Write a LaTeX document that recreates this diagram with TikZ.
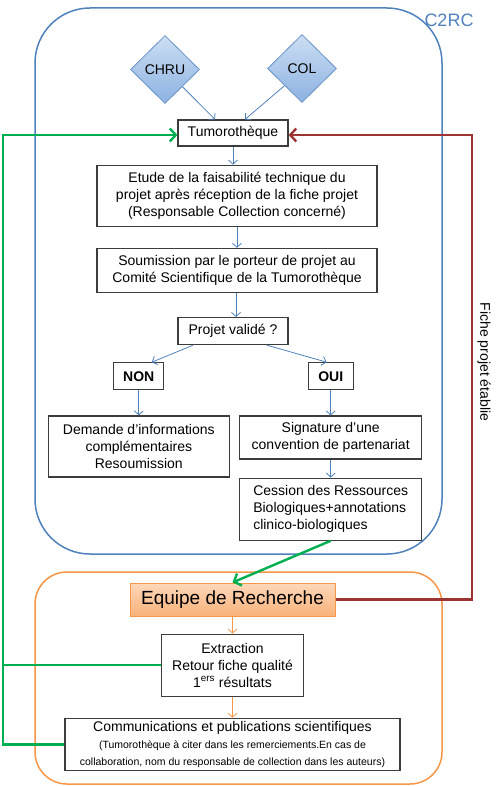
\documentclass[tikz,border=0pt]{standalone}
\usepackage{fontspec}
\setmainfont{Liberation Sans}
\usepackage{xcolor}
\usepackage{tikz}
\usetikzlibrary{positioning,shapes.geometric,arrows.meta}
\definecolor{c2rcblue}{RGB}{79,129,189}
\definecolor{lightblue}{RGB}{205,222,243}
\definecolor{midblue}{RGB}{140,178,225}
\definecolor{teamorange}{RGB}{247,150,70}
\definecolor{peach}{RGB}{253,216,186}
\definecolor{apricot}{RGB}{249,178,122}
\definecolor{loopgreen}{RGB}{0,176,80}
\definecolor{fichered}{RGB}{155,52,50}
\definecolor{boxgray}{RGB}{60,60,60}

\begin{document}
\begin{tikzpicture}[x=1pt, y=-1pt, node distance={18pt}, thick,
    main/.style = {draw=boxgray, line width=1.2pt, fill=white, align=center, inner sep=2pt, font=\fontsize{14}{17}\selectfont},
    site/.style = {diamond, draw=c2rcblue!85, line width=0.8pt, top color=lightblue, bottom color=midblue, minimum width=69, minimum height=68, inner sep=0pt, font=\fontsize{14}{17}\selectfont},
    frame/.style = {rounded corners=#1, line width=1.5pt, minimum width=407},
    link/.style = {draw=c2rcblue, line width=0.8pt, -{Straight Barb[length=4pt,width=9pt]}},
    teamlink/.style = {draw=teamorange, line width=0.8pt, -{Straight Barb[length=4pt,width=9pt]}},
    loop/.style = {draw=loopgreen, line width=2.4pt, -{Straight Barb[length=6pt,width=13pt]}},
    back/.style = {draw=fichered, line width=2.4pt, -{Straight Barb[length=6pt,width=13pt]}}]
    \useasboundingbox (0,0) rectangle (500,786);
    \node[frame=55pt, draw=c2rcblue, minimum height=546] (c2rcframe) at (238.5,281) {};
    \node[frame=32pt, draw=teamorange, minimum height=212] (teamframe) at (238.5,678) {};
    \node[text=c2rcblue, font=\fontsize{18}{20}\selectfont] (c2rc) at (449,20) {C2RC};
    \node[site] (chru) at (165,69.5) {CHRU};
    \node[site] (col) at (302,68.5) {COL};
    \node[main, minimum width=110, minimum height=26] (tumo) at (233,133) {Tumorothèque};
    \node[main, minimum width=280, minimum height=61] (etude) [below=18pt of tumo, xshift=4pt] {Etude de la faisabilité technique du\\projet après réception de la fiche projet\\(Responsable Collection concerné)};
    \node[main, minimum width=280, minimum height=44] (soum) [below=21pt of etude] {Soumission par le porteur de projet au\\Comité Scientifique de la Tumorothèque};
    \node[main, minimum width=110, minimum height=27] (valide) [below=24pt of soum, xshift=-4pt] {Projet validé ?};
    \node[main, minimum width=50, minimum height=27, font=\fontsize{14}{17}\selectfont\bfseries] (non) [below left=17pt and 13pt of valide] {NON};
    \node[main, minimum width=45, minimum height=27, font=\fontsize{14}{17}\selectfont\bfseries] (oui) [below right=17pt and 19pt of valide] {OUI};
    \node[main, minimum width=181, minimum height=61] (demande) [below=25pt of non] {Demande d’informations\\complémentaires\\Resoumission};
    \node[main, minimum width=182, minimum height=43] (signature) [below=25pt of oui] {Signature d’une\\convention de partenariat};
    \node[main, minimum width=182, minimum height=62, align=left] (cession) [below=18pt of signature] {Cession des Ressources\\Biologiques+annotations\\clinico-biologiques};
    \node[main, draw=teamorange, line width=1pt, top color=peach, bottom color=apricot, minimum width=205, minimum height=33, font=\fontsize{19}{22}\selectfont] (equipe) at (232.5,599.5) {Equipe de Recherche};
    \node[main, minimum width=142, minimum height=62] (extraction) [below=17pt of equipe] {Extraction\\Retour fiche qualité\\1\textsuperscript{ers} résultats};
    \node[main, minimum width=335, minimum height=52] (comm) [below=21pt of extraction] {Communications et publications scientifiques\\\fontsize{10.5}{15}\selectfont (Tumorothèque à citer dans les remerciements.En cas de\\\fontsize{10.5}{15}\selectfont collaboration, nom du responsable de collection dans les auteurs)};
    \node[rotate=-90, font=\fontsize{14}{17}\selectfont] (fiche) at (484,362) {Fiche projet établie};
    \coordinate (gtop) at (3,135);
    \coordinate (rtop) at (472,135);
    \draw[link] (chru.south east) -- ([xshift=-18pt]tumo.north);
    \draw[link] (col.south west) -- ([xshift=12pt]tumo.north);
    \draw[link] (tumo) -- (tumo |- etude.north);
    \draw[link] (etude) -- (soum);
    \draw[link] ([xshift=-1pt]soum.south) -- ([xshift=-1pt]soum.south |- valide.north);
    \draw[link] ([xshift=-40pt]valide.south) -- ([xshift=13pt]non.north);
    \draw[link] ([xshift=34pt]valide.south) -- ([xshift=-4pt]oui.north);
    \draw[link] (non) -- (demande);
    \draw[link] (oui) -- (signature);
    \draw[link] (signature) -- (cession);
    \draw[teamlink] (equipe) -- (extraction);
    \draw[teamlink] (extraction) -- (comm);
    \draw[loop] (cession.south) -- (equipe.north);
    \draw[loop] (comm.west) -| (gtop) -- (tumo.west |- gtop);
    \draw[draw=loopgreen, line width=2.4pt] (extraction.west) -- (extraction.west -| gtop);
    \draw[back] (equipe.east) -| (rtop) -- (tumo.east |- rtop);
\end{tikzpicture}
\end{document}
